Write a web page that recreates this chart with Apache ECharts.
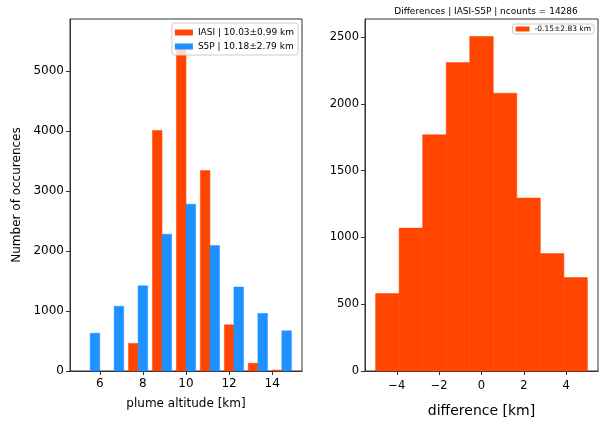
<!DOCTYPE html>
<html>
<head>
<meta charset="utf-8">
<title>IASI vs S5P</title>
<script src="https://cdn.jsdelivr.net/npm/echarts@6/dist/echarts.min.js"></script>
<style>
  html, body { margin: 0; padding: 0; background: #fff; }
  #main { width: 615px; height: 425px; }
</style>
</head>
<body>
<div id="main"></div>
<script>
// histogram bins (9 bins, 5..15 km)
var binEdges = [5, 6.111, 7.222, 8.333, 9.444, 10.556, 11.667, 12.778, 13.889, 15];
var iasiCounts = [0, 0, 460, 4010, 5420, 3340, 770, 130, 15];
var s5pCounts = [630, 1080, 1420, 2280, 2780, 2090, 1400, 960, 670];

// differences histogram (9 bins, -5..5 km)
var diffEdges = [-5, -3.889, -2.778, -1.667, -0.556, 0.556, 1.667, 2.778, 3.889, 5];
var diffCounts = [580, 1070, 1770, 2310, 2505, 2080, 1295, 880, 700];

var leftTicks = [6, 8, 10, 12, 14];
var rightTicks = [-4, -2, 0, 2, 4];

var FONT = 'DejaVu Sans';
var ORANGE = '#FF4500';
var BLUE = '#1E90FF';

// side-by-side bars, like matplotlib hist with two datasets (rwidth 0.8)
function pairData(counts, which) {
  var out = [];
  for (var i = 0; i < counts.length; i++) {
    var w = binEdges[i + 1] - binEdges[i];
    var c = (binEdges[i] + binEdges[i + 1]) / 2;
    var x0 = which === 0 ? c - 0.4 * w : c;
    out.push([x0, x0 + 0.4 * w, counts[i]]);
  }
  return out;
}
function stepData(edges, counts) {
  var out = [];
  for (var i = 0; i < counts.length; i++) out.push([edges[i], edges[i + 1], counts[i]]);
  return out;
}
function renderBar(params, api) {
  if (!api.value(2)) return null;
  var p0 = api.coord([api.value(0), api.value(2)]);
  var p1 = api.coord([api.value(1), 0]);
  var c = api.visual('color');
  return {
    type: 'rect',
    shape: { x: p0[0], y: p0[1], width: p1[0] - p0[0], height: p1[1] - p0[1] },
    style: { fill: c, stroke: c, lineWidth: 0.5 }
  };
}
function minus(v) { return v < 0 ? '\u2212' + Math.abs(v) : String(v); }
function plain(v) { return String(v); }

var axisLineStyle = { show: true, onZero: false, lineStyle: { color: '#333', width: 1 } };

var chart = echarts.init(document.getElementById('main'));
chart.setOption({
  animation: false,
  textStyle: { fontFamily: FONT },
  title: {
    text: 'Differences | IASI-S5P | ncounts = 14286',
    left: 481, top: 2, textAlign: 'center',
    textStyle: { fontFamily: FONT, fontSize: 9, fontWeight: 'normal', color: '#000' }
  },
  legend: [{
    data: ['IASI | 10.03\u00b10.99 km', 'S5P | 10.18\u00b12.79 km'],
    orient: 'vertical', right: 317, top: 23,
    itemWidth: 18, itemHeight: 6, itemGap: 5,
    padding: [5, 4, 4, 3],
    icon: 'rect',
    backgroundColor: 'rgba(255,255,255,0.8)',
    borderColor: '#ccc', borderWidth: 1, borderRadius: 3,
    textStyle: { fontFamily: FONT, fontSize: 9, color: '#000' }
  }, {
    data: ['-0.15\u00b12.83 km'],
    orient: 'vertical', right: 21, top: 24,
    itemWidth: 14, itemHeight: 5,
    padding: [1, 3, 1, 3],
    icon: 'rect',
    backgroundColor: 'rgba(255,255,255,0.8)',
    borderColor: '#ccc', borderWidth: 1, borderRadius: 2,
    textStyle: { fontFamily: FONT, fontSize: 7.5, color: '#000' }
  }],
  grid: [
    { left: 70, top: 19, width: 232, height: 352, show: true, borderColor: '#333', borderWidth: 1 },
    { left: 365, top: 19, width: 233, height: 352, show: true, borderColor: '#333', borderWidth: 1 }
  ],
  xAxis: [{
    type: 'value', gridIndex: 0, min: 4.62, max: 15.38,
    name: 'plume altitude [km]', nameLocation: 'middle', nameGap: 27,
    nameTextStyle: { fontFamily: FONT, fontSize: 12, color: '#000' },
    axisLine: axisLineStyle, splitLine: { show: false },
    axisTick: { show: true, length: 4, lineStyle: { color: '#333' }, customValues: leftTicks },
    axisLabel: { customValues: leftTicks, fontFamily: FONT, fontSize: 12, color: '#000', margin: 7, formatter: plain }
  }, {
    type: 'value', gridIndex: 1, min: -5.5, max: 5.5,
    name: 'difference [km]', nameLocation: 'middle', nameGap: 33,
    nameTextStyle: { fontFamily: FONT, fontSize: 14, color: '#000' },
    axisLine: axisLineStyle, splitLine: { show: false },
    axisTick: { show: true, length: 4, lineStyle: { color: '#333' }, customValues: rightTicks },
    axisLabel: { customValues: rightTicks, fontFamily: FONT, fontSize: 11.5, color: '#000', margin: 9, formatter: minus }
  }],
  yAxis: [{
    type: 'value', gridIndex: 0, min: 0, max: 5867, interval: 1000,
    name: 'Number of occurences', nameLocation: 'middle', nameGap: 47,
    nameTextStyle: { fontFamily: FONT, fontSize: 12, color: '#000' },
    axisLine: axisLineStyle, splitLine: { show: false },
    axisTick: { show: true, length: 4, lineStyle: { color: '#333' } },
    axisLabel: { fontFamily: FONT, fontSize: 12, color: '#000', margin: 6,
      showMaxLabel: false, formatter: plain }
  }, {
    type: 'value', gridIndex: 1, min: 0, max: 2636, interval: 500,
    axisLine: axisLineStyle, splitLine: { show: false },
    axisTick: { show: true, length: 4, lineStyle: { color: '#333' } },
    axisLabel: { fontFamily: FONT, fontSize: 11.5, color: '#000', margin: 6,
      showMaxLabel: false, formatter: plain }
  }],
  series: [{
    name: 'IASI | 10.03\u00b10.99 km', type: 'custom', xAxisIndex: 0, yAxisIndex: 0,
    itemStyle: { color: ORANGE }, renderItem: renderBar,
    encode: { x: [0, 1], y: 2 }, data: pairData(iasiCounts, 0)
  }, {
    name: 'S5P | 10.18\u00b12.79 km', type: 'custom', xAxisIndex: 0, yAxisIndex: 0,
    itemStyle: { color: BLUE }, renderItem: renderBar,
    encode: { x: [0, 1], y: 2 }, data: pairData(s5pCounts, 1)
  }, {
    name: '-0.15\u00b12.83 km', type: 'custom', xAxisIndex: 1, yAxisIndex: 1,
    itemStyle: { color: ORANGE }, renderItem: renderBar,
    encode: { x: [0, 1], y: 2 }, data: stepData(diffEdges, diffCounts)
  }]
});
</script>
</body>
</html>
